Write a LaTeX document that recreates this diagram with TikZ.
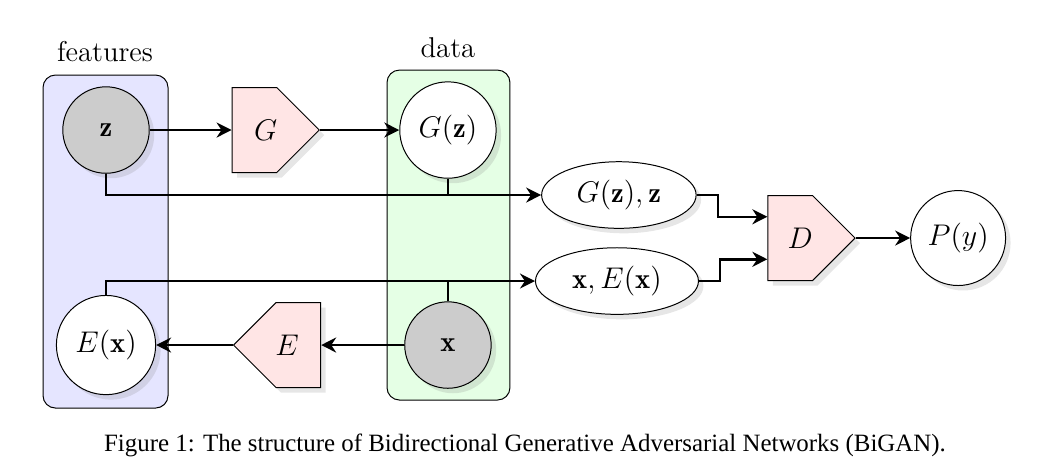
\documentclass[tikz,border=0pt]{standalone}
\usepackage{amsmath}
\usepackage{fontspec}
\newfontfamily\captionfont{Liberation Serif}
\usetikzlibrary{shapes.geometric, shapes.symbols, arrows.meta, positioning, calc, shadows}

\begin{document}
\begin{tikzpicture}[
  font=\fontsize{11.5}{13}\selectfont,
  >={Stealth[length=6pt, width=6pt]},
  line/.style={line width=1pt},
  softshadow/.style={drop shadow={shadow xshift=2pt, shadow yshift=-2pt, opacity=0.2}},
  var/.style={circle, draw, fill=white, minimum size=1.22cm, inner sep=0pt, softshadow},
  obs/.style={var, fill=black!20},
  net/.style={signal, draw, fill=red!10, minimum width=1.23cm, minimum height=1.2cm, inner sep=0pt, softshadow},
  pair/.style={ellipse, draw, fill=white, minimum width=2.18cm, minimum height=0.94cm, inner sep=0pt, softshadow},
  group/.style={draw, rounded corners=5pt}
]
\useasboundingbox (0,0) rectangle (15.0,6.689);

% Plates
\draw[group, fill=blue!10] (0.607,0.931) rectangle (2.371,5.630);
\draw[group, fill=green!10] (5.461,1.044) rectangle (7.196,5.700);
\node (featlabel) at (1.482,5.955) {features};
\node (datalabel) at (6.321,6.011) {data};

% Variables
\node[obs] (z) at (1.496,4.854) {$\mathbf{z}$};
\node[var, minimum size=1.36cm] (Gz) at (6.321,4.854) {$G(\mathbf{z})$};
\node[var, minimum size=1.40cm] (Ex) at (1.496,1.820) {$E(\mathbf{x})$};
\node[obs] (x) at (6.321,1.820) {$\mathbf{x}$};
\node[var, minimum size=1.34cm] (P) at (13.52,3.33) {$P(y)$};

% Networks
\node[net, signal to=east, label={[xshift=4.5pt]center:$G$}] (G) at (3.59,4.854) {};
\node[net, signal to=west, label={[xshift=-4.5pt]center:$E$}] (E) at (4.21,1.820) {};
\node[net, signal to=east, label={[xshift=4pt]center:$D$}] (D) at (11.15,3.33) {};

% Joint pairs
\node[pair] (pairA) at (8.733,3.937) {$G(\mathbf{z}),\mathbf{z}$};
\node[pair, minimum width=2.30cm] (pairB) at (8.706,2.723) {$\mathbf{x},E(\mathbf{x})$};

% Connections
\draw[line,->] (z) -- (G);
\draw[line,->] (G) -- (Gz);
\draw[line,->] (z.south) |- (pairA.west);
\draw[line] (Gz.south) -- (Gz.south |- pairA.west);
\draw[line,->] (Ex.north) |- (pairB.west);
\draw[line] (x.north) -- (x.north |- pairB.west);
\draw[line,->] (x) -- (E);
\draw[line,->] (E) -- (Ex);
\draw[line,->] (pairA.east) -- ++(0.3,0) |- ([yshift=0.3cm]D.west);
\draw[line,->] (pairB.east) -- ++(0.3,0) |- ([yshift=-0.3cm]D.west);
\draw[line,->] (D) -- (P);

% Caption
\node[font=\captionfont\fontsize{10}{12}\selectfont] (caption) at (7.408,0.409) {Figure 1: The structure of Bidirectional Generative Adversarial Networks (BiGAN).};
\end{tikzpicture}
\end{document}
